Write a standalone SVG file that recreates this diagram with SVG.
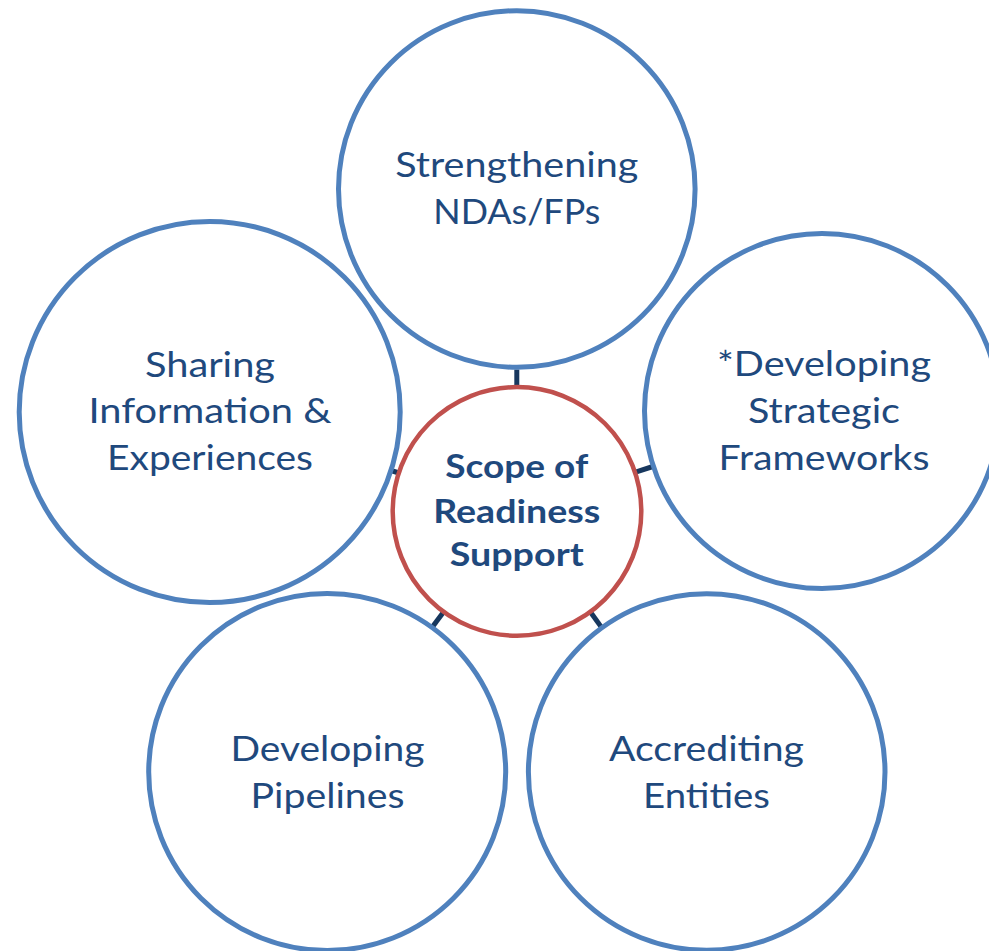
<svg xmlns="http://www.w3.org/2000/svg" width="989" height="951" viewBox="0 0 989 951">
<style>
.outer{fill:#FFFFFF;stroke:#4F81BD;stroke-width:5}
.core{fill:#FFFFFF;stroke:#C0504D;stroke-width:4.5}
.lbl{font-family:Lato,"Open Sans","Liberation Sans",sans-serif;font-size:35px;fill:#1F497D;text-anchor:middle}
.core-lbl{font-family:Lato,"Open Sans","Liberation Sans",sans-serif;font-size:32.5px;font-weight:bold;fill:#1F497D;text-anchor:middle}
.conn{stroke:#17375E;stroke-width:5;fill:none}
</style>
<rect width="989" height="951" fill="#FFFFFF"/>
<g id="connectors">
<line class="conn" x1="516.8" y1="386.5" x2="516.8" y2="369.5"/>
<line class="conn" x1="399" y1="473" x2="391" y2="470.5"/>
<line class="conn" x1="634.8" y1="472.3" x2="652.9" y2="466.5"/>
<line class="conn" x1="444.1" y1="611.3" x2="432" y2="627.6"/>
<line class="conn" x1="589.9" y1="611.3" x2="601.7" y2="627.6"/>
</g>
<g id="node-top">
<circle class="outer" cx="516.8" cy="189" r="178.3"/>
<text class="lbl" x="516.8" y="176.7" textLength="243" lengthAdjust="spacingAndGlyphs">Strengthening</text>
<text class="lbl" x="516.8" y="224" textLength="167" lengthAdjust="spacingAndGlyphs">NDAs/FPs</text>
</g>
<g id="node-left">
<circle class="outer" cx="209.7" cy="412" r="190.5"/>
<text class="lbl" x="210" y="376.7" textLength="130" lengthAdjust="spacingAndGlyphs">Sharing</text>
<text class="lbl" x="210" y="423.3" textLength="243" lengthAdjust="spacingAndGlyphs">Information &amp;</text>
<text class="lbl" x="210" y="470" textLength="206" lengthAdjust="spacingAndGlyphs">Experiences</text>
</g>
<g id="node-right">
<circle class="outer" cx="822" cy="411" r="177.5"/>
<text class="lbl" x="824" y="376" textLength="214" lengthAdjust="spacingAndGlyphs">*Developing</text>
<text class="lbl" x="824" y="423.3" textLength="152" lengthAdjust="spacingAndGlyphs">Strategic</text>
<text class="lbl" x="824" y="470" textLength="211" lengthAdjust="spacingAndGlyphs">Frameworks</text>
</g>
<g id="node-bottom-left">
<circle class="outer" cx="327.2" cy="772" r="178.5"/>
<text class="lbl" x="327.5" y="761" textLength="194" lengthAdjust="spacingAndGlyphs">Developing</text>
<text class="lbl" x="327.5" y="807.7" textLength="154" lengthAdjust="spacingAndGlyphs">Pipelines</text>
</g>
<g id="node-bottom-right">
<circle class="outer" cx="706.7" cy="772" r="178.3"/>
<text class="lbl" x="706.5" y="761" textLength="195" lengthAdjust="spacingAndGlyphs">Accrediting</text>
<text class="lbl" x="706.5" y="807.7" textLength="127" lengthAdjust="spacingAndGlyphs">Entities</text>
</g>
<g id="node-center">
<circle class="core" cx="517" cy="511.4" r="124.3"/>
<text class="core-lbl" x="516.7" y="478.3" textLength="143" lengthAdjust="spacingAndGlyphs">Scope of</text>
<text class="core-lbl" x="516.7" y="522.7" textLength="167" lengthAdjust="spacingAndGlyphs">Readiness</text>
<text class="core-lbl" x="516.7" y="566" textLength="134" lengthAdjust="spacingAndGlyphs">Support</text>
</g>
</svg>
